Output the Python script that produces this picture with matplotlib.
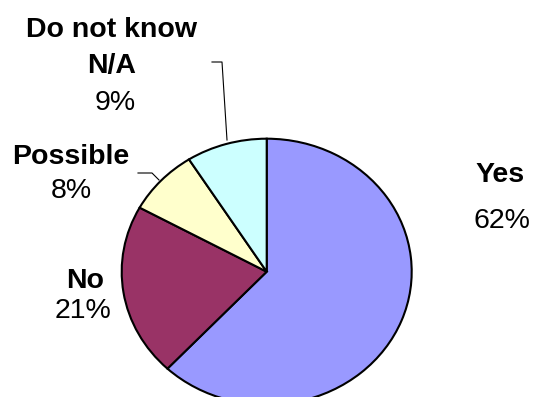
import matplotlib
matplotlib.use("Agg")
from matplotlib import pyplot as plt

labels = ["Yes", "No", "Possible", "Do not know\nN/A"]
values = [62, 21, 8, 9]
colours = ["#9999FF", "#993366", "#FFFFCC", "#CCFFFF"]

W, H = 536, 397
cx, cy = 266.7, 271.7      # pie centre, pixels from top-left
rx, ry = 145.0, 133.0      # pie radii in pixels (slightly squashed)


def px(x, y):
    # pixel position -> data coords of the pie axes
    return (x - cx) / rx, (cy - y) / ry


fig = plt.figure(figsize=(W / 100, H / 100), dpi=100)
ax = fig.add_axes([0, 0, 1, 1])
ax.pie(values, colors=colours, startangle=90, counterclock=False, radius=1,
       wedgeprops=dict(edgecolor="black", linewidth=1.5))
ax.set_aspect("auto")
ax.set_xlim(px(0, 0)[0], px(W, 0)[0])
ax.set_ylim(px(0, H)[1], px(0, 0)[1])
ax.axis("off")

font = "Liberation Sans"
fs = 20.5
pcts = ["%d%%" % v for v in values]

# label positions (centre x, baseline y of the first line) in pixels
name_pos = [(500, 182), (85, 288), (71, 164), (112, 37)]
pct_pos = [(502, 228), (83, 318), (71, 198), (115, 110)]
line_step = 36

for lab, p, (nx, ny), (qx, qy) in zip(labels, pcts, name_pos, pct_pos):
    for i, part in enumerate(lab.split("\n")):
        x, y = px(nx, ny + i * line_step)
        ax.text(x, y, part, ha="center", va="baseline", fontsize=fs,
                fontweight="bold", family=font)
    x, y = px(qx, qy)
    ax.text(x, y, p, ha="center", va="baseline", fontsize=fs, family=font)

# leader lines
for pts in ([(212, 62), (222, 62), (227, 140)],
            [(138, 173), (152, 173), (159, 180)]):
    xs, ys = zip(*[px(a, b) for a, b in pts])
    ax.plot(xs, ys, color="black", linewidth=0.8)

fig.savefig("out.png", dpi=100, facecolor="white")
